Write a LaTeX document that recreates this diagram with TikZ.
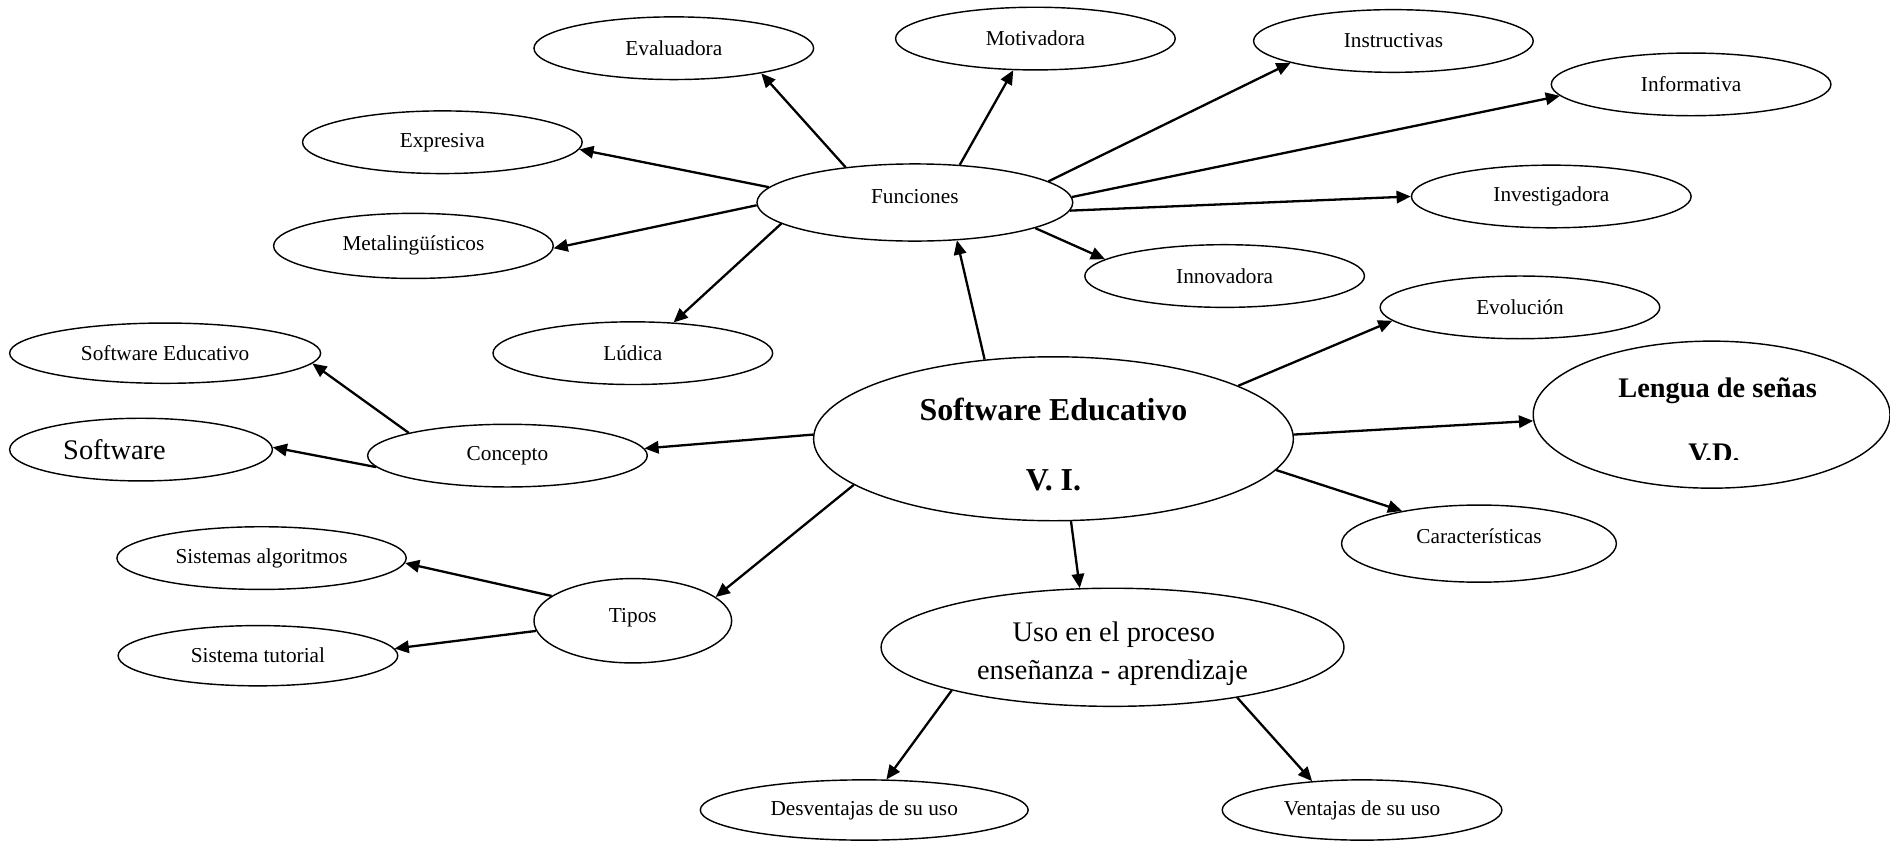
\documentclass[tikz,border=0pt]{standalone}
\usepackage{fontspec}
\setmainfont{Liberation Serif}
\usetikzlibrary{shapes.geometric,arrows.meta}
\begin{document}
\begin{tikzpicture}[x=0.68pt,y=-0.68pt,
  ell/.style 2 args={ellipse,draw,line width=0.8pt,inner sep=0pt,
    minimum width=#1*1.36pt,minimum height=#2*1.36pt,font=\fontsize{12}{14}\selectfont},
  raise/.style={text depth=#1},
  arr/.style={line width=1.3pt,-{Triangle[length=8pt,width=7pt]}},
  txt/.style={inner sep=0pt,anchor=base},
  big/.style={font=\fontsize{16}{19}\selectfont},
  bigb/.style={font=\fontsize{16}{19}\selectfont\bfseries},
  hugeb/.style={font=\fontsize{18}{21}\selectfont\bfseries}]
\useasboundingbox (0,0) rectangle (1568,697.7);

\node[ell={116}{26}] (eva) at (559,40) {Evaluadora};
\node[ell={116}{26}] (mot) at (859,32) {Motivadora};
\node[ell={116}{26}] (ins) at (1156,34) {Instructivas};
\node[ell={116}{26}] (inf) at (1403,70) {Informativa};
\node[ell={116}{26}] (exp) at (367,118) {Expresiva};
\node[ell={131}{32},raise=6.8pt] (fun) at (759,168) {Funciones};
\node[ell={116}{26}] (inv) at (1287,163) {Investigadora};
\node[ell={116}{27}] (met) at (343,204) {Metalingüísticos};
\node[ell={116}{26}] (inn) at (1016,229) {Innovadora};
\node[ell={116}{26}] (evo) at (1261,255) {Evolución};
\node[ell={129}{25}] (se) at (137,293) {Software Educativo};
\node[ell={116}{26}] (lud) at (525,293) {Lúdica};
\node[ell={148}{61}] (len) at (1420,344) {};
\node[ell={199}{68}] (main) at (874,364) {};
\node[ell={116}{26}] (con) at (421,378) {Concepto};
\node[ell={109}{26},big] (sw) at (117,373) {Software\hspace*{30pt}};
\node[ell={114}{32},raise=8pt] (car) at (1227,451) {Características};
\node[ell={120}{26}] (sa) at (217,463) {Sistemas algoritmos};
\node[ell={82}{35},raise=5.5pt] (tip) at (525,515) {Tipos};
\node[ell={192}{49}] (uso) at (923,537) {};
\node[ell={116}{25}] (st) at (214,544) {Sistema tutorial};
\node[ell={136}{25}] (des) at (717,672) {Desventajas de su uso};
\node[ell={116}{25}] (ven) at (1130,672) {Ventajas de su uso};

\node[txt,hugeb] (mainA) at (874,348.5) {Software Educativo};
\node[txt,hugeb] (mainB) at (874,407) {V. I.};
\node[txt,big] (usoA) at (924,532) {Uso en el proceso};
\node[txt,big] (usoB) at (923,563.5) {enseñanza - aprendizaje};
\node[txt,bigb] (lenA) at (1425,330) {Lengua de señas};
\begin{scope}
  \clip (1272,283) rectangle (1568,381);
  \node[txt,bigb] (lenB) at (1422,384) {V.D.};
\end{scope}

\draw[arr] (fun.153) -- (eva.-16);
\draw[arr] (fun.40) -- (mot.235);
\draw[arr] (fun.9) -- (ins.192);
\draw[arr] (fun.2) -- (inf.185);
\draw[arr] (fun.-3) -- (inv.180);
\draw[arr] (fun.-12) -- (inn.172);
\draw[arr] (fun.174) -- (exp.-3);
\draw[arr] (fun.181) -- (met.-1);
\draw[arr] (fun.189) -- (lud.37);
\draw[arr] (main.131) -- (fun.-42);
\draw[arr] (main.16) -- (evo.186);
\draw[arr] (main.1) -- (len.182);
\draw[arr] (main.-8) -- (car.157);
\draw[arr] (main.-78) -- (uso.119);
\draw[arr] (main.193) -- (tip.16);
\draw[arr] (main.179) -- (con.3);
\draw[arr] (con.167) -- (se.-4);
\draw[arr] (con.185) -- (sw.1);
\draw[arr] (tip.163) -- (sa.-2);
\draw[arr] (tip.186) -- (st.3);
\draw[arr] (uso.195) -- (des.54);
\draw[arr] (uso.-22) -- (ven.150);
\end{tikzpicture}
\end{document}
